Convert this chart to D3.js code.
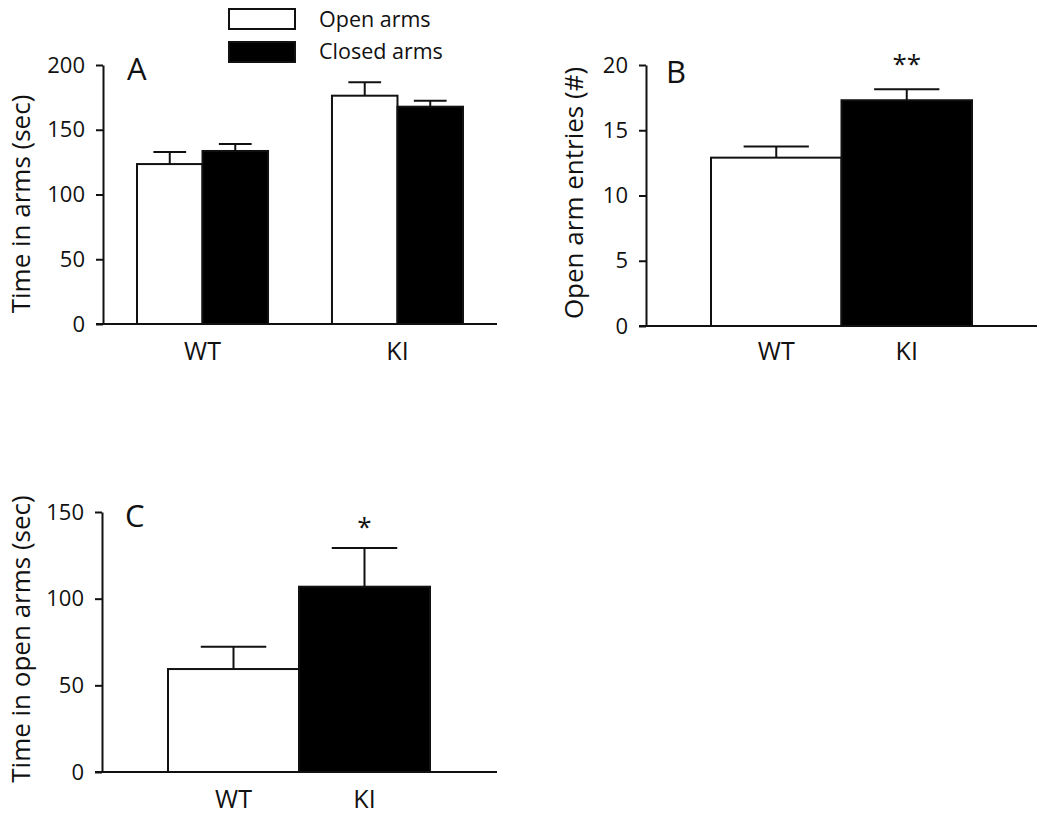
<!DOCTYPE html>
<html>
<head>
<meta charset="utf-8">
<script src="https://cdn.jsdelivr.net/npm/d3@7"></script>
<style>
  body { margin: 0; background: #fff; }
  svg { display: block; }
  text { font-family: "Open Sans", Lato, sans-serif; fill: #111; }
</style>
</head>
<body>
<svg id="chart" width="1050" height="819"></svg>
<script>
// ---------------- DATA ----------------
const groups = ["WT", "KI"];
const seriesNames = ["Open arms", "Closed arms"];

// Panel A: time in arms (sec)
const timeOpenA = [123.5, 176.3];
const timeOpenSemA = [9.3, 10.3];
const timeClosedA = [133.6, 167.8];
const timeClosedSemA = [5.4, 4.6];
const ticksA = [0, 50, 100, 150, 200];

// Panel B: open arm entries (#)
const entries = [12.9, 17.3];
const entriesSem = [0.85, 0.85];
const ticksB = [0, 5, 10, 15, 20];
const sigB = ["", "**"];

// Panel C: time in open arms (sec)
const timeOpenC = [59.4, 106.9];
const timeOpenSemC = [12.9, 22.3];
const ticksC = [0, 50, 100, 150];
const sigC = ["", "*"];

// ---------------- DRAW ----------------
const svg = d3.select("#chart");
const LW = 2;

function axes(g, y, ticks, x0, x1, title, titleX, titleY, titleSize) {
  const ax = g.append("g")
    .attr("transform", `translate(${x0},0)`)
    .call(d3.axisLeft(y).tickValues(ticks).tickSize(7).tickSizeOuter(0).tickPadding(11));
  ax.select(".domain").attr("stroke", "#111").attr("stroke-width", LW);
  ax.selectAll(".tick line").attr("stroke", "#111").attr("stroke-width", LW);
  ax.selectAll(".tick text").attr("font-size", 22).attr("fill", "#222")
    .style("font-family", '"Open Sans", Lato, sans-serif');
  // x baseline
  g.append("line")
    .attr("x1", x0 - 7).attr("x2", x1)
    .attr("y1", y(0)).attr("y2", y(0))
    .attr("stroke", "#111").attr("stroke-width", LW);
  g.append("text")
    .attr("transform", `translate(${titleX},${titleY}) rotate(-90)`)
    .attr("text-anchor", "middle").attr("dominant-baseline", "central")
    .attr("font-size", titleSize).text(title);
}

function bar(g, x0, w, y, v, sem, fill) {
  g.append("rect")
    .attr("x", x0).attr("width", w)
    .attr("y", y(v)).attr("height", y(0) - y(v))
    .attr("fill", fill).attr("stroke", "#111").attr("stroke-width", LW);
  const cx = x0 + w / 2;
  g.append("line").attr("x1", cx).attr("x2", cx)
    .attr("y1", y(v)).attr("y2", y(v + sem))
    .attr("stroke", "#111").attr("stroke-width", LW);
  g.append("line").attr("x1", cx - w / 4).attr("x2", cx + w / 4)
    .attr("y1", y(v + sem)).attr("y2", y(v + sem))
    .attr("stroke", "#111").attr("stroke-width", LW);
}

function catLabels(g, xc, y, dy) {
  groups.forEach((gname, i) => {
    g.append("text").attr("x", xc(gname)).attr("y", y(0) + dy)
      .attr("text-anchor", "middle").attr("font-size", 25).text(gname);
  });
}

// ---- Panel A ----
{
  const g = svg.append("g");
  const y = d3.scaleLinear().domain([0, 200]).range([324, 65]);
  const xg = d3.scaleBand().domain(groups).range([137, 463]).paddingInner(0.328).paddingOuter(0);
  const xs = d3.scaleBand().domain(seriesNames).range([0, xg.bandwidth()]);
  axes(g, y, ticksA, 103, 497, "Time in arms (sec)", 20, 204, 26);
  groups.forEach((gn, i) => {
    bar(g, xg(gn) + xs("Open arms"), xs.bandwidth(), y, timeOpenA[i], timeOpenSemA[i], "#fff");
    bar(g, xg(gn) + xs("Closed arms"), xs.bandwidth(), y, timeClosedA[i], timeClosedSemA[i], "#000");
  });
  catLabels(g, d => xg(d) + xg.bandwidth() / 2, y, 36);
  g.append("text").attr("x", 127).attr("y", 80).attr("font-size", 31).text("A");
  // legend
  const lg = g.append("g");
  seriesNames.forEach((s, i) => {
    lg.append("rect").attr("x", 229).attr("y", 9 + i * 33).attr("width", 66).attr("height", 20)
      .attr("fill", i === 0 ? "#fff" : "#000").attr("stroke", "#111").attr("stroke-width", LW);
    lg.append("text").attr("x", 319).attr("y", 27 + i * 32).attr("font-size", 21.5).text(s);
  });
}

// ---- Panel B ----
{
  const g = svg.append("g");
  const y = d3.scaleLinear().domain([0, 20]).range([326, 65]);
  const x = d3.scaleBand().domain(groups).range([711, 972]);
  axes(g, y, ticksB, 646, 1037, "Open arm entries (#)", 573, 193, 26);
  groups.forEach((gn, i) => {
    bar(g, x(gn), x.bandwidth(), y, entries[i], entriesSem[i], i === 0 ? "#fff" : "#000");
    if (sigB[i]) g.append("text").attr("x", x(gn) + x.bandwidth() / 2)
      .attr("y", y(entries[i] + entriesSem[i]) - 16).attr("text-anchor", "middle")
      .attr("font-size", 26).text(sigB[i]);
  });
  catLabels(g, d => x(d) + x.bandwidth() / 2, y, 34);
  g.append("text").attr("x", 666).attr("y", 83).attr("font-size", 31).text("B");
}

// ---- Panel C ----
{
  const g = svg.append("g");
  const y = d3.scaleLinear().domain([0, 150]).range([772, 512]);
  const x = d3.scaleBand().domain(groups).range([168, 430]);
  axes(g, y, ticksC, 102, 497, "Time in open arms (sec)", 20, 639, 26);
  groups.forEach((gn, i) => {
    bar(g, x(gn), x.bandwidth(), y, timeOpenC[i], timeOpenSemC[i], i === 0 ? "#fff" : "#000");
    if (sigC[i]) g.append("text").attr("x", x(gn) + x.bandwidth() / 2)
      .attr("y", y(timeOpenC[i] + timeOpenSemC[i]) - 12).attr("text-anchor", "middle")
      .attr("font-size", 26).text(sigC[i]);
  });
  catLabels(g, d => x(d) + x.bandwidth() / 2, y, 36);
  g.append("text").attr("x", 125).attr("y", 527).attr("font-size", 31).text("C");
}
</script>
</body>
</html>
